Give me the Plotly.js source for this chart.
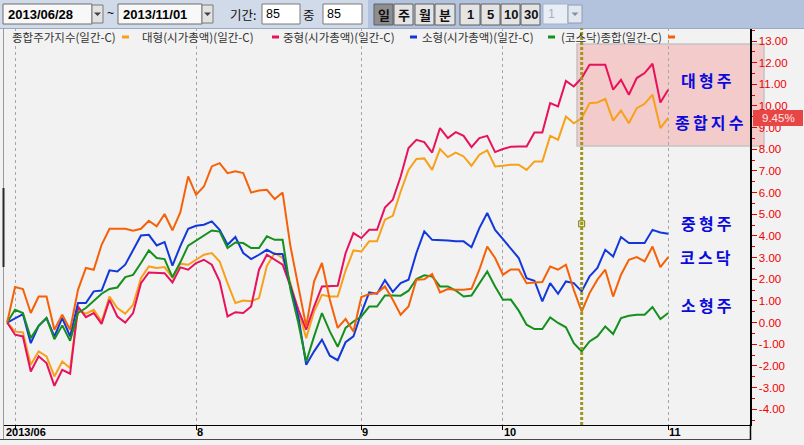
<!DOCTYPE html>
<html>
<head>
<meta charset="utf-8">
<script src="https://cdn.plot.ly/plotly-3.0.1.min.js"></script>
<style>
html,body{margin:0;padding:0;background:#F2F2F2;}
#chart{width:804px;height:445px;}
</style>
</head>
<body>
<div id="chart"></div>
<script>
// ---------- DATA ----------
const dates = [
 "2013-06-28",
 "2013-07-01","2013-07-02","2013-07-03","2013-07-04","2013-07-05",
 "2013-07-08","2013-07-09","2013-07-10","2013-07-11","2013-07-12",
 "2013-07-15","2013-07-16","2013-07-17","2013-07-18","2013-07-19",
 "2013-07-22","2013-07-23","2013-07-24","2013-07-25","2013-07-26",
 "2013-07-29","2013-07-30","2013-07-31",
 "2013-08-01","2013-08-02",
 "2013-08-05","2013-08-06","2013-08-07","2013-08-08","2013-08-09",
 "2013-08-12","2013-08-13","2013-08-14","2013-08-16",
 "2013-08-19","2013-08-20","2013-08-21","2013-08-22","2013-08-23",
 "2013-08-26","2013-08-27","2013-08-28","2013-08-29","2013-08-30",
 "2013-09-02","2013-09-03","2013-09-04","2013-09-05","2013-09-06",
 "2013-09-09","2013-09-10","2013-09-11","2013-09-12","2013-09-13",
 "2013-09-16","2013-09-17",
 "2013-09-23","2013-09-24","2013-09-25","2013-09-26","2013-09-27",
 "2013-09-30",
 "2013-10-01","2013-10-02","2013-10-04",
 "2013-10-07","2013-10-08","2013-10-10","2013-10-11",
 "2013-10-14","2013-10-15","2013-10-16","2013-10-17","2013-10-18",
 "2013-10-21","2013-10-22","2013-10-23","2013-10-24","2013-10-25",
 "2013-10-28","2013-10-29","2013-10-30","2013-10-31",
 "2013-11-01"
];

// 종합주가지수 (KOSPI) % change
const kospi = [
 0, -0.41, -0.45, -1.95, -1.33, -1.56, -2.49, -1.80, -2.10, 0.59, 0.41, 0.59, 0.05, 1.20, 0.67, 0.41, 0.82, 2.05, 2.59, 2.52, 2.56, 2.08, 2.72,
 2.67, 2.90, 3.13, 3.21, 2.82, 1.82, 0.90, 1.02, 0.98, 1.13, 2.62, 3.21, 2.98, 1.82, 0.59, -0.72, 0.51, 1.28, 1.20, 1.20, 2.40,
 3.33, 3.28, 3.75, 3.75, 4.75, 4.93, 6.05, 7.05, 7.55, 7.58, 7.05, 8.01, 7.64, 7.85, 7.67, 7.24, 7.75, 7.95, 7.21, 7.24,
 7.29, 7.29, 7.05, 7.44, 7.44, 8.62, 8.44, 9.51, 9.20, 9.43, 10.13, 10.16, 10.33, 9.32, 9.79, 9.20, 9.90, 10.10, 10.52, 8.98, 9.45
];
// 대형(시가총액)
const largeCap = [
 0, -0.56, -0.64, -2.26, -1.56, -1.87, -2.92, -2.18, -2.36, 0.74, 0.25, 0.44, -0.06, 1.05, 0.28, 0.00, 0.44, 1.82, 2.31, 2.28, 2.28, 1.85, 2.55,
 2.44, 2.75, 2.90, 2.67, 1.90, 0.28, 0.48, 0.44, 0.74, 2.44, 3.13, 2.90, 2.67, 1.67, 0.59, -0.33, 0.74, 1.67, 1.67, 1.70, 3.20,
 4.13, 3.90, 4.28, 4.28, 5.31, 5.67, 6.74, 8.06, 8.44, 8.33, 7.85, 8.98, 8.52, 8.79, 8.62, 8.10, 8.52, 8.62, 7.87, 8.01,
 8.12, 8.13, 8.13, 8.78, 8.78, 10.13, 9.98, 11.16, 10.90, 11.29, 11.90, 11.90, 11.90, 10.75, 11.21, 10.52, 11.29, 11.52, 11.95, 10.16, 10.75
];
// 중형(시가총액)
const midCap = [
 0, 0.21, 0.39, -0.95, -0.15, 0.21, -0.64, 0.21, -0.64, 0.90, 0.90, 1.44, 1.48, 2.41, 2.36, 2.67, 3.36, 4.02, 4.05, 3.56, 3.72, 2.63, 3.53,
 4.33, 4.47, 4.52, 4.67, 4.28, 3.59, 3.95, 3.21, 2.93, 3.13, 3.36, 3.16, 3.16, 1.67, 0.28, -1.95, -1.33, -0.79, -1.53, -1.74, -0.91,
 -0.64, 0.44, 1.39, 1.33, 1.96, 1.42, 1.82, 1.98, 3.21, 4.21, 3.82, 3.82, 3.79, 3.75, 3.75, 3.48, 4.36, 5.06, 4.28, 3.85,
 3.40, 2.98, 2.05, 1.93, 0.98, 1.82, 1.33, 1.90, 1.82, 1.44, 2.13, 2.52, 3.36, 3.05, 3.95, 3.67, 3.67, 3.67, 4.28, 4.16, 4.10
];
// 소형(시가총액)
const smallCap = [
 0, 0.59, 0.44, -0.72, -0.15, 0.21, -0.77, -0.13, -0.84, 0.44, 0.67, 0.98, 1.33, 1.55, 1.62, 2.10, 2.20, 2.75, 3.33, 2.98, 2.93, 2.09, 2.78,
 3.55, 3.79, 4.05, 4.25, 4.20, 3.44, 3.70, 3.67, 3.44, 3.44, 3.98, 3.82, 3.82, 1.51, -0.02, -1.80, -0.64, 0.44, -0.41, -1.12, -0.25,
 0.05, 0.28, 0.74, 0.74, 1.25, 1.25, 1.24, 1.47, 2.01, 2.18, 2.13, 1.67, 1.67, 1.48, 1.20, 1.25, 1.82, 2.36, 1.67, 1.05,
 1.06, 0.55, -0.10, -0.30, -0.30, 0.24, -0.02, -0.22, -0.95, -1.33, -0.87, -0.64, -0.18, -0.53, 0.21, 0.31, 0.36, 0.36, 0.72, 0.16, 0.44
];
// (코스닥)종합
const kosdaq = [
 0, 1.64, 1.55, 0.44, 1.20, 1.20, -0.33, 0.36, -0.33, 1.51, 2.52, 2.44, 3.59, 4.33, 4.33, 4.33, 4.24, 4.33, 4.70, 4.44, 5.01, 4.26, 5.08,
 6.75, 5.90, 6.28, 7.21, 7.36, 6.90, 6.98, 6.90, 6.00, 6.10, 6.13, 5.70, 6.00, 3.51, 1.67, -0.18, 1.90, 2.75, 1.05, -0.25, 0.17,
 -0.41, 1.18, 1.31, 1.36, 1.67, 1.05, 0.36, 0.74, 1.98, 2.00, 2.24, 1.39, 1.55, 1.52, 1.52, 1.56, 2.44, 3.51, 2.98, 2.21,
 2.45, 2.45, 1.82, 1.85, 1.87, 2.59, 2.44, 2.67, 1.51, 0.51, 1.36, 1.98, 2.44, 1.20, 2.21, 2.90, 3.02, 2.82, 3.51, 2.56, 3.02
];

const seriesNames  = ["종합주가지수(일간-C)", "대형(시가총액)(일간-C)", "중형(시가총액)(일간-C)", "소형(시가총액)(일간-C)", "(코스닥)종합(일간-C)"];
const seriesLabels = ["종합지수", "대형주", "중형주", "소형주", "코스닥"];
const monthLabels  = ["2013/06", "8", "9", "10", "11"];
const yTicks       = [-4,-3,-2,-1,0,1,2,3,4,5,6,7,8,9,10,11,12,13];
const cursorDate   = "2013-10-17";
const cursorValue  = 4.56;

// ---------- STYLE ----------
const colors = ["#F7A11A", "#E8125C", "#1238DA", "#15901E", "#F66108"];
const W = 804, H = 445, ML = 3, MR = 54, MT = 28, MB = 20;
const PW = W - ML - MR, PH = H - MT - MB;
const fx = px => (px - ML) / PW;
const fy = py => (H - MB - py) / PH;

const xIdx = dates.map((d, i) => i);
const series = [kospi, largeCap, midCap, smallCap, kosdaq];

// month gridline positions: first trading day of each new month in the window
const tickIdx = [];
dates.forEach((d, i) => { if (i > 0 && d.slice(5,7) !== dates[i-1].slice(5,7)) tickIdx.push(i); });

const traces = series.map((s, k) => ({
  type: "scatter", mode: "lines", x: xIdx, y: s, name: seriesNames[k],
  line: {color: colors[k], width: 2}, hoverinfo: "x+y"
}));
const cursorIdx = dates.indexOf(cursorDate);
traces.push({
  type: "scatter", mode: "markers", x: [cursorIdx], y: [cursorValue],
  marker: {symbol: "square", size: 6, color: "#EFEFB0", line: {color: "#7F7A10", width: 1}},
  hoverinfo: "skip"
});

const shapes = [];
const ann = [];
function rect(x0, y0, x1, y1, fill, lc, lw, layer) {
  shapes.push({type: "rect", xref: "paper", yref: "paper", x0: fx(x0), x1: fx(x1), y0: fy(y1), y1: fy(y0),
    fillcolor: fill, line: {color: lc || "rgba(0,0,0,0)", width: lw === undefined ? 1 : lw}, layer: layer || "above"});
}
function hline(x0, x1, y, c, w) {
  shapes.push({type: "line", xref: "paper", yref: "paper", x0: fx(x0), x1: fx(x1), y0: fy(y), y1: fy(y), line: {color: c, width: w || 1}, layer: "above"});
}
function vline(x, y0, y1, c, w) {
  shapes.push({type: "line", xref: "paper", yref: "paper", x0: fx(x), x1: fx(x), y0: fy(y0), y1: fy(y1), line: {color: c, width: w || 1}, layer: "above"});
}
function text(px, py, t, opts) {
  opts = opts || {};
  ann.push({xref: "paper", yref: "paper", x: fx(px), y: fy(py), text: t, showarrow: false,
    xanchor: opts.anchor || "left", yanchor: "middle",
    font: {family: opts.family || "Noto Sans CJK KR, sans-serif", size: opts.size || 12, color: opts.color || "#222"}});
}
function arrow(x0, x1, y0, y1, c) {
  const cx = (x0 + x1) / 2, cy = (y0 + y1) / 2;
  shapes.push({type: "path", xref: "paper", yref: "paper",
    path: `M ${fx(cx-3.5)} ${fy(cy-1.5)} L ${fx(cx+3.5)} ${fy(cy-1.5)} L ${fx(cx)} ${fy(cy+2)} Z`,
    fillcolor: c, line: {color: c, width: 0}, layer: "above"});
}

// toolbar
rect(0, 0, 368, 28, "#D0DAE8", null, 0);
rect(368, 0, 804, 28, "#B3C3DD", null, 0);
hline(0, 804, 28.5, "#9AAAC4", 1);
// date boxes
rect(3, 4, 92, 24, "#F8F8F8", "#6E6E6E", 1);
text(6, 14.5, "<b>2013/06/28</b>", {family: "Liberation Sans, Arial, sans-serif", size: 13, color: "#000"});
rect(92, 5, 103, 23, "#E2E2E2", "#7A7A7A", 1);
arrow(92, 103, 5, 23, "#404040");
text(110, 13, "~", {anchor: "center", size: 12, color: "#000", family: "Liberation Sans, Arial"});
rect(118, 4, 202, 24, "#F8F8F8", "#6E6E6E", 1);
text(121, 14.5, "<b>2013/11/01</b>", {family: "Liberation Sans, Arial, sans-serif", size: 13, color: "#000"});
rect(202, 5, 213, 23, "#E2E2E2", "#7A7A7A", 1);
arrow(202, 213, 5, 23, "#404040");
text(228, 14, "기간:", {size: 12.5, color: "#111"});
rect(262, 4, 300, 24, "#FFFFFF", "#7A7A7A", 1);
text(264, 14.5, "85", {family: "Liberation Sans, Arial", size: 12.5, color: "#000"});
text(309, 14, "중", {anchor: "center", size: 12.5, color: "#111"});
rect(323, 4, 362, 24, "#FFFFFF", "#7A7A7A", 1);
text(325, 14.5, "85", {family: "Liberation Sans, Arial", size: 12.5, color: "#000"});
// period buttons
const btns = [["일", 374, 393, true], ["주", 394, 413], ["월", 415, 434], ["분", 435, 455]];
btns.forEach(b => {
  rect(b[1], 4, b[2], 25, b[3] ? "#8E8E8E" : "#E4E4E4", "#5E5E5E", 1);
  text((b[1] + b[2]) / 2, 14.5, "<b>" + b[0] + "</b>", {anchor: "center", size: 13, color: "#111"});
});
const nbtn = [["1", 460, 480], ["5", 481, 500], ["10", 501, 520], ["30", 521, 540]];
nbtn.forEach(b => {
  rect(b[1], 4, b[2], 25, "#E4E4E4", "#5E5E5E", 1);
  text((b[1] + b[2]) / 2, 14.5, "<b>" + b[0] + "</b>", {anchor: "center", size: 13, color: "#111", family: "Liberation Sans Narrow, Liberation Sans, Arial"});
});
rect(543, 4, 568, 24, "#E9EEF5", "#A5B3CA", 1);
text(546, 14.5, "1", {family: "Liberation Sans, Arial", size: 12.5, color: "#A8B0BC"});
rect(568, 5, 582, 23, "#E2E7EF", "#8E9CB4", 1);
arrow(568, 582, 5, 23, "#8090A8");

// legend row
const legX = [10, 140, 281, 420, 559];
const dashX = [122, 272, 410, 548, 668];
seriesNames.forEach((n, k) => {
  text(legX[k], 37, n, {size: 11.5, color: "#333"});
  hline(dashX[k], dashX[k] + 7, 37, colors[k], 3);
});

// highlight box (below data)
rect(577, 44, 764, 146, "#F3CBCB", "#C4C4C4", 1.5, "below");

// cursor line
shapes.push({type: "line", xref: "x", yref: "paper", x0: cursorIdx, x1: cursorIdx, y0: 0, y1: 1,
  line: {color: "#9E9622", width: 3, dash: "3px,2px"}, layer: "above"});

// frame bits
vline(3.5, 28, 440, "#9A9A9A", 1);
vline(3.5, 188, 267, "#2A2A2A", 2);
hline(0, 751, 439.5, "#4A4A4A", 1);
vline(750.5, 424, 440, "#000", 1.5);

// month labels on x axis (left-aligned at their tick)
monthLabels.forEach((t, k) => {
  ann.push({xref: "x", yref: "paper", x: tickIdx[k], y: fy(432), text: "<b>" + t + "</b>", showarrow: false,
    xanchor: "left", yanchor: "middle", xshift: k === 0 ? -11 : -1,
    font: {family: "Liberation Sans Narrow, Arial Narrow, Liberation Sans, sans-serif", size: 11, color: "#000"}});
});

// series labels
const lblPos = [[709, 122], [706, 80], [706, 223], [706, 305], [705, 257]];
seriesLabels.forEach((t, k) => {
  text(lblPos[k][0], lblPos[k][1], "<b>" + t.split("").join("\u2009") + "</b>", {anchor: "center", size: 16, color: "#0A0ADC"});
});

// last value badge
const lastVal = kospi[kospi.length - 1];
const badgeY = MT + (13.6 - lastVal) / (13.6 + 4.73) * PH;
rect(753, badgeY - 8, 803, badgeY + 8, "#E84545", null, 0);
text(778, badgeY, lastVal.toFixed(2) + "%", {anchor: "center", size: 11.5, color: "#FFE8E8", family: "Liberation Sans, Arial"});

const layout = {
  width: W, height: H,
  margin: {l: ML, r: MR, t: MT, b: MB, pad: 0},
  paper_bgcolor: "#F2F2F2", plot_bgcolor: "rgba(0,0,0,0)",
  showlegend: false,
  xaxis: {
    range: [-0.53, 94.39], tickmode: "array", tickvals: tickIdx, ticktext: monthLabels,
    showticklabels: false,
    ticks: "outside", ticklen: 4, tickcolor: "#000", tickwidth: 1,
    showgrid: true, gridcolor: "#A6A6A6", gridwidth: 1, griddash: "3px,3px",
    showline: true, linecolor: "#000", linewidth: 1, zeroline: false
  },
  yaxis: {
    side: "right", range: [-4.73, 13.6],
    tickmode: "array", tickvals: yTicks, ticktext: yTicks.map(v => v.toFixed(2)),
    ticks: "outside", ticklen: 5, tickcolor: "#E00000", tickwidth: 1,
    minor: {tickmode: "linear", tick0: 0.5, dtick: 1, ticks: "outside", ticklen: 3, tickcolor: "#E00000", showgrid: false},
    showline: true, linecolor: "#000", linewidth: 1.5, showgrid: false, zeroline: false,
    tickfont: {family: "Liberation Sans, Arial, sans-serif", size: 11.5, color: "#F00000"}
  },
  shapes: shapes, annotations: ann
};

Plotly.newPlot("chart", traces, layout, {displayModeBar: false, staticPlot: true});
</script>
</body>
</html>
